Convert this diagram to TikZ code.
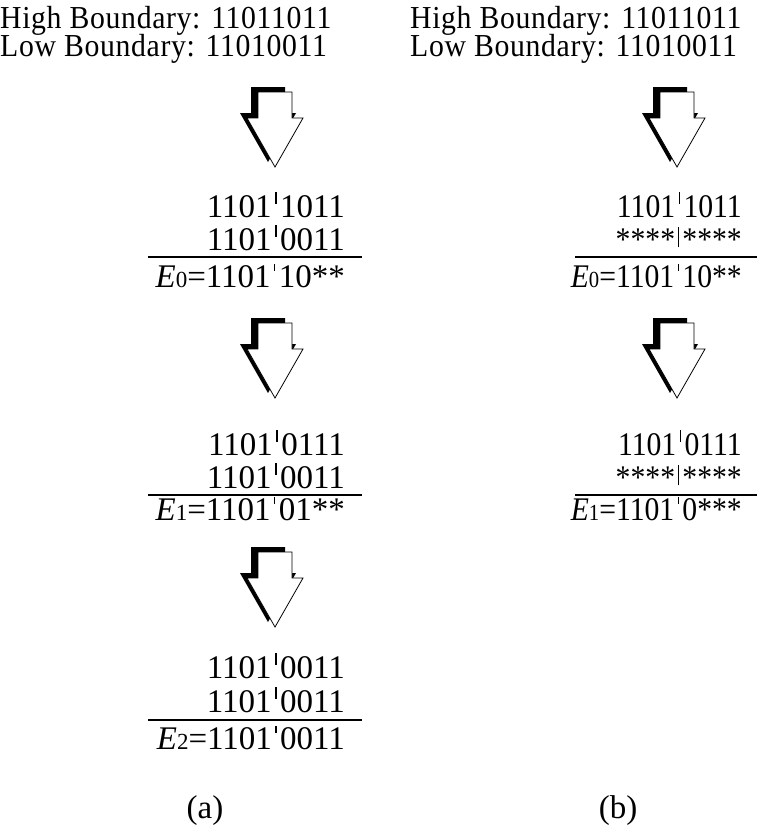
\documentclass[tikz,border=0pt]{standalone}
\usepackage{fontspec}
\setmainfont{Liberation Serif}
\newfontfamily\narrowserif[FakeStretch=0.9]{Liberation Serif}
\newfontfamily\labelserif[FakeStretch=0.93,LetterSpace=2]{Liberation Serif}
\newcommand{\bitbar}{\kern3.5pt\rule[0.4em]{1.3pt}{0.36em}\kern3.5pt}
\newcommand{\bittick}{\kern3.5pt\rule[0.5em]{1.1pt}{0.2em}\kern3.5pt}
\newcommand{\starbar}{\kern3pt\rule[0.08em]{1.3pt}{0.62em}\kern3pt}
\newcommand{\Esub}[1]{\textit{E}{\fontsize{23}{23}\selectfont #1}}

\begin{document}
\begin{tikzpicture}[x=1pt,y=-1pt]
\tikzset{every node/.style={inner sep=0pt,font=\fontsize{33}{40}\selectfont},
  row/.style={anchor=base east},
  rowb/.style={anchor=base east,font=\fontsize{33}{40}\narrowserif},
  lbl/.style={anchor=base west,font=\fontsize{32}{38}\labelserif},
  rule/.style={line width=1.4pt},
  bigdown/.pic={
    \fill[shift={(-7,-5)}] (0,0) -- (28,-49) -- (17,-49) -- (17,-75) -- (-17,-75) -- (-17,-49) -- (-28,-49) -- cycle;
    \filldraw[fill=white,line width=0.8pt] (0,0) -- (28,-49) -- (17,-49) -- (17,-75) -- (-17,-75) -- (-17,-49) -- (-28,-49) -- cycle;
  }}
\useasboundingbox (0,0) rectangle (757,830);

% (a)
\node[lbl] (ha) at (0,28) {High Boundary: 11011011};
\node[lbl] (la) at (0,56) {Low Boundary: 11010011};
\coordinate (ta1) at (275,167);
\pic at (ta1) {bigdown};
\node[row] (a11) at (345,217) {1101\bitbar1011};
\node[row] (a12) at (345,250) {1101\bitbar0011};
\draw[rule] (148,257) -- (362,257);
\node[row] (e0a) at (345,287) {\Esub{0}=1101\bittick10**};
\coordinate (ta2) at (275,398);
\pic at (ta2) {bigdown};
\node[row] (a21) at (345,455) {1101\bitbar0111};
\node[row] (a22) at (345,488) {1101\bitbar0011};
\draw[rule] (148,495) -- (362,495);
\node[row] (e1a) at (345,520) {\Esub{1}=1101\bittick01**};
\coordinate (ta3) at (275,627);
\pic at (ta3) {bigdown};
\node[row] (a31) at (345,678) {1101\bitbar0011};
\node[row] (a32) at (345,712) {1101\bitbar0011};
\draw[rule] (148,720) -- (362,720);
\node[row] (e2a) at (345,749) {\Esub{2}=1101\bittick0011};
\node[anchor=base] (capa) at (205,818) {(a)};

% (b)
\node[lbl] (hb) at (410,28) {High Boundary: 11011011};
\node[lbl] (lb) at (410,56) {Low Boundary: 11010011};
\coordinate (tb1) at (677,167);
\pic at (tb1) {bigdown};
\node[rowb] (b11) at (742,217) {1101\bitbar1011};
\node[rowb] (b12) at (742,250) {****\starbar****};
\draw[rule] (575,257) -- (757,257);
\node[rowb] (e0b) at (742,287) {\Esub{0}=1101\bittick10**};
\coordinate (tb2) at (677,398);
\pic at (tb2) {bigdown};
\node[rowb] (b21) at (742,455) {1101\bitbar0111};
\node[rowb] (b22) at (742,488) {****\starbar****};
\draw[rule] (575,495) -- (757,495);
\node[rowb] (e1b) at (742,520) {\Esub{1}=1101\bittick0***};
\node[anchor=base] (capb) at (618,818) {(b)};
\end{tikzpicture}
\end{document}
